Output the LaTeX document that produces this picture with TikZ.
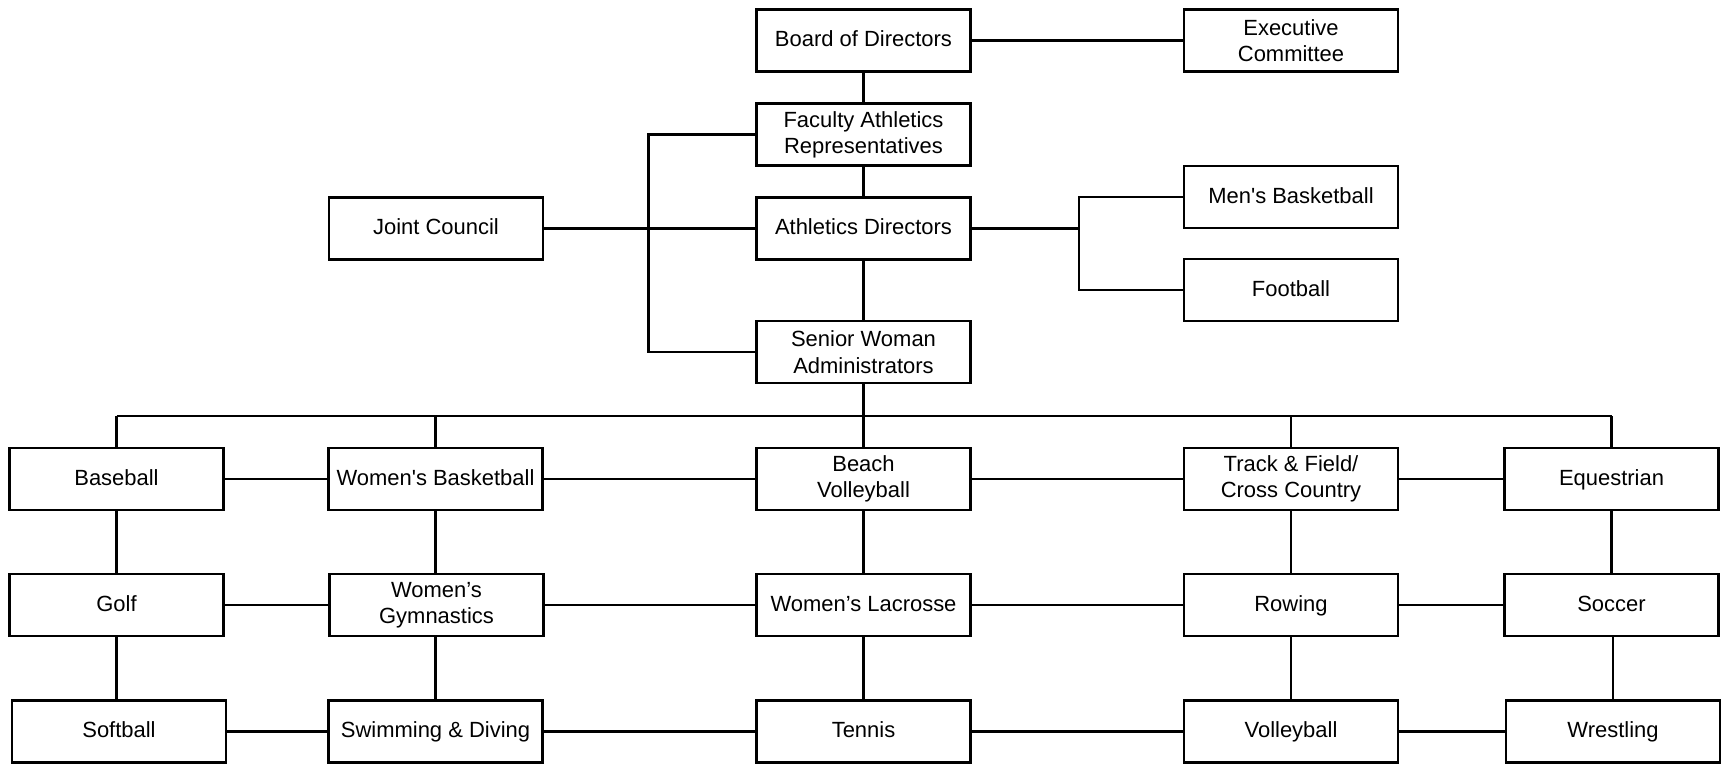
\documentclass[tikz,border=0pt]{standalone}
\usepackage{fontspec}
\setmainfont{Liberation Sans}[Ligatures=TeXOff]
\usetikzlibrary{positioning}

\tikzset{
  box/.style={draw, line width=1.2pt, minimum width=4.28cm, minimum height=1.24cm,
    inner sep=2pt, align=center, font=\fontsize{12.5}{15}\selectfont},
  onebox/.style={box, text height=0.72em, text depth=0pt},
  link/.style={line width=1.2pt}
}

\begin{document}
\begin{tikzpicture}[x=0.2mm, y=-0.2mm]
      \useasboundingbox (0,0) rectangle (1722,764);

      % Boxes (top)
      \node[onebox] (board) at (863.5,40.5) {Board of Directors};
      \node[box] (exec) at (1291,40.5) {Executive\\Committee};
      \node[box] (far) at (863.5,134.5) {Faculty Athletics\\Representatives};
      \node[onebox] (joint) at (436,228.5) {Joint Council};
      \node[onebox] (ad) at (863.5,228.5) {Athletics Directors};
      \node[onebox] (mbb) at (1291,197) {Men's Basketball};
      \node[onebox] (fball) at (1291,290) {Football};
      \node[box] (swa) at (863.5,352) {Senior Woman\\Administrators};

      % Boxes (sports)
      \node[onebox] (base) at (116.5,479) {Baseball};
      \node[onebox] (wbb) at (435.5,479) {Women's Basketball};
      \node[box] (beach) at (863.5,479) {Beach\\Volleyball};
      \node[box] (track) at (1291,479) {Track \& Field/\\Cross Country};
      \node[onebox] (eques) at (1611.5,479) {Equestrian};

      \node[onebox] (golf) at (116.5,605) {Golf};
      \node[box] (gym) at (436.5,605) {Women’s\\Gymnastics};
      \node[onebox] (lax) at (863.5,605) {Women’s Lacrosse};
      \node[onebox] (row) at (1291,605) {Rowing};
      \node[onebox] (soccer) at (1611.5,605) {Soccer};

      \node[onebox] (soft) at (119,731.5) {Softball};
      \node[onebox] (swim) at (435.5,731.5) {Swimming \& Diving};
      \node[onebox] (tennis) at (863.5,731.5) {Tennis};
      \node[onebox] (vball) at (1291,731.5) {Volleyball};
      \node[onebox] (wrest) at (1613,731.5) {Wrestling};

      % Lines (top)
      \draw[link] (board) -- (exec);
      \draw[link] (board) -- (far);
      \draw[link] (far) -- (ad);
      \draw[link] (ad) -- (swa);
      \draw[link] (joint) -- (ad);
      \draw[link] (far.west) -- ++(-107,0) coordinate (lbrk) -- (lbrk |- swa.west) -- (swa.west);
      \draw[link] (ad.east) -- ++(107,0) coordinate (rbrk);
      \draw[link] (mbb.west) -| (rbrk) |- (fball.west);

      % Bus
      \draw[link] (swa.south) -- ++(0,32) coordinate (bus);
      \draw[link] (bus -| base) -- (bus -| eques);
      \foreach \n in {base, wbb, beach, track, eques}
        \draw[link] (bus -| \n) -- (\n.north);

      % Lines (sports)
      \draw[link] (base) -- (wbb) -- (beach) -- (track) -- (eques);
      \draw[link] (golf) -- (gym) -- (lax) -- (row) -- (soccer);
      \draw[link] (soft) -- (swim) -- (tennis) -- (vball) -- (wrest);
      \draw[link] (base) -- (golf) -- (base.south |- soft.north);
      \draw[link] (wbb) -- (wbb.south |- gym.north);
      \draw[link] (gym.south -| wbb) -- (swim);
      \draw[link] (beach) -- (lax) -- (tennis);
      \draw[link] (track) -- (row) -- (vball);
      \draw[link] (eques) -- (soccer);
      \draw[link] (soccer.south -| wrest) -- (wrest);
\end{tikzpicture}
\end{document}
